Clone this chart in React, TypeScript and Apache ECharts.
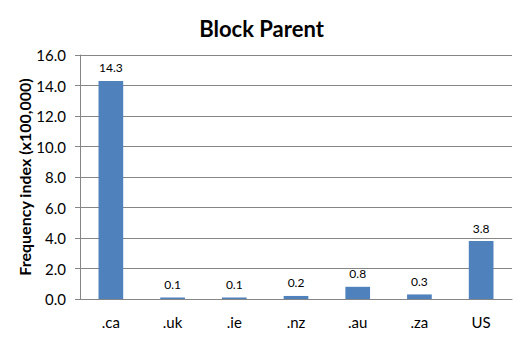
import React, { useEffect, useRef } from "react";
import * as echarts from "echarts";

const categories = [".ca", ".uk", ".ie", ".nz", ".au", ".za", "US"];
const values = [14.3, 0.1, 0.1, 0.2, 0.8, 0.3, 3.8];
const titleText = "Block Parent";
const yAxisName = "Frequency index (x100,000)";

export default function App() {
  const ref = useRef<HTMLDivElement>(null);
  useEffect(() => {
    const chart = echarts.init(ref.current!, null, { renderer: "svg" });
    const font = "Lato, 'Open Sans', sans-serif";
    chart.setOption({
      animation: false,
      backgroundColor: "#ffffff",
      title: {
        text: titleText,
        left: "center",
        top: 12,
        textStyle: { fontFamily: font, fontSize: 22, fontWeight: "bold", color: "#000" },
      },
      grid: { left: 80, right: 11, top: 55, bottom: 38, containLabel: false },
      xAxis: {
        type: "category",
        data: categories,
        axisLine: { show: true, lineStyle: { color: "#868686" } },
        axisTick: { show: false },
        axisLabel: { color: "#000", fontFamily: font, fontSize: 15, margin: 15 },
      },
      yAxis: {
        type: "value",
        min: 0,
        max: 16,
        interval: 2,
        name: yAxisName,
        nameLocation: "middle",
        nameGap: 48,
        nameMoveOverlap: false,
        nameTextStyle: { fontFamily: font, fontSize: 16, fontWeight: "bold", color: "#000" },
        axisLine: { show: true, lineStyle: { color: "#868686" } },
        axisTick: { show: true, length: 5, lineStyle: { color: "#868686" } },
        splitLine: { show: true, lineStyle: { color: "#868686" } },
        axisLabel: {
          color: "#000",
          fontFamily: font,
          fontSize: 15,
          margin: 14,
          formatter: (v: number) => v.toFixed(1),
        },
      },
      series: [
        {
          type: "bar",
          data: values,
          barWidth: "40%",
          itemStyle: { color: "#4F81BD" },
          label: {
            show: true,
            position: "top",
            distance: 7,
            color: "#000",
            fontFamily: font,
            fontSize: 12,
            formatter: (p: any) => Number(p.value).toFixed(1),
          },
        },
      ],
    });
    return () => chart.dispose();
  }, []);
  return <div ref={ref} style={{ width: 523, height: 337, position: "absolute", left: 0, top: 0 }} />;
}
